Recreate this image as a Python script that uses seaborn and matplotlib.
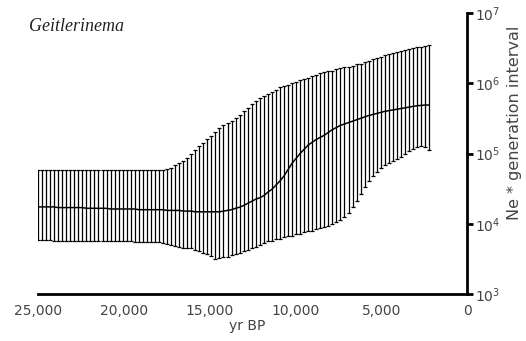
import numpy as np
import pandas as pd
import matplotlib
matplotlib.use("Agg")
import matplotlib.pyplot as plt
import seaborn as sns

# time grid (yr BP), one entry per interval bar
years = [25000, 24765, 24530, 24295, 24060, 23825, 23590, 23355, 23120, 22885,
         22650, 22415, 22180, 21945, 21710, 21475, 21240, 21005, 20770, 20535,
         20300, 20065, 19830, 19595, 19360, 19125, 18890, 18655, 18420, 18185,
         17950, 17715, 17480, 17245, 17010, 16775, 16540, 16305, 16070, 15835,
         15600, 15365, 15130, 14895, 14660, 14425, 14190, 13955, 13720, 13485,
         13250, 13015, 12780, 12545, 12310, 12075, 11840, 11605, 11370, 11135,
         10900, 10665, 10430, 10195, 9960, 9725, 9490, 9255, 9020, 8785,
         8550, 8315, 8080, 7845, 7610, 7375, 7140, 6905, 6670, 6435,
         6200, 5965, 5730, 5495, 5260, 5025, 4790, 4555, 4320, 4085,
         3850, 3615, 3380, 3145, 2910, 2675, 2440, 2205]

# log10(Ne * generation interval)
log_median = [4.24, 4.24, 4.24, 4.24, 4.24, 4.23, 4.23, 4.23, 4.23, 4.23,
              4.23, 4.23, 4.22, 4.22, 4.22, 4.22, 4.22, 4.22, 4.21, 4.21,
              4.21, 4.21, 4.21, 4.21, 4.21, 4.20, 4.20, 4.20, 4.20, 4.20,
              4.20, 4.20, 4.19, 4.19, 4.19, 4.19, 4.18, 4.18, 4.18, 4.17,
              4.17, 4.17, 4.17, 4.17, 4.17, 4.17, 4.18, 4.19, 4.20, 4.22,
              4.235, 4.26, 4.29, 4.32, 4.35, 4.37, 4.40, 4.45, 4.49, 4.55,
              4.61, 4.68, 4.77, 4.86, 4.93, 5.00, 5.06, 5.12, 5.16, 5.20,
              5.23, 5.26, 5.30, 5.34, 5.37, 5.40, 5.42, 5.44, 5.46, 5.48,
              5.50, 5.52, 5.54, 5.555, 5.57, 5.585, 5.60, 5.61, 5.62, 5.63,
              5.64, 5.65, 5.66, 5.67, 5.68, 5.685, 5.69, 5.69]

log_upper = [4.77, 4.77, 4.77, 4.77, 4.77, 4.77, 4.77, 4.77, 4.77, 4.77,
             4.77, 4.77, 4.77, 4.76, 4.76, 4.76, 4.76, 4.76, 4.76, 4.76,
             4.76, 4.76, 4.76, 4.76, 4.76, 4.76, 4.76, 4.76, 4.76, 4.76,
             4.76, 4.77, 4.78, 4.80, 4.83, 4.86, 4.90, 4.94, 4.99, 5.05,
             5.10, 5.15, 5.20, 5.25, 5.31, 5.37, 5.40, 5.43, 5.46, 5.50,
             5.55, 5.60, 5.65, 5.70, 5.75, 5.79, 5.82, 5.85, 5.88, 5.91,
             5.94, 5.96, 5.98, 6.00, 6.02, 6.04, 6.06, 6.08, 6.10, 6.12,
             6.14, 6.155, 6.17, 6.18, 6.20, 6.215, 6.225, 6.235, 6.25, 6.27,
             6.28, 6.30, 6.32, 6.34, 6.36, 6.38, 6.40, 6.42, 6.43, 6.45,
             6.46, 6.48, 6.49, 6.50, 6.51, 6.52, 6.535, 6.545]

log_lower = [3.77, 3.77, 3.77, 3.77, 3.76, 3.76, 3.76, 3.76, 3.76, 3.76,
             3.76, 3.76, 3.75, 3.75, 3.75, 3.75, 3.75, 3.75, 3.75, 3.75,
             3.75, 3.75, 3.75, 3.75, 3.74, 3.74, 3.74, 3.74, 3.74, 3.74,
             3.74, 3.73, 3.71, 3.70, 3.69, 3.67, 3.66, 3.66, 3.65, 3.63,
             3.61, 3.59, 3.57, 3.54, 3.50, 3.51, 3.52, 3.53, 3.55, 3.57,
             3.59, 3.61, 3.63, 3.65, 3.67, 3.70, 3.73, 3.75, 3.76, 3.78,
             3.79, 3.81, 3.82, 3.83, 3.85, 3.86, 3.88, 3.89, 3.90, 3.92,
             3.94, 3.95, 3.97, 3.99, 4.02, 4.06, 4.10, 4.16, 4.24, 4.33,
             4.43, 4.52, 4.61, 4.68, 4.74, 4.79, 4.83, 4.86, 4.89, 4.92,
             4.95, 4.99, 5.03, 5.06, 5.09, 5.10, 5.09, 5.05]

x_ticks = [25000, 20000, 15000, 10000, 5000, 0]
x_ticklabels = ["25,000", "20,000", "15,000", "10,000", "5,000", "0"]
y_ticks = [1e3, 1e4, 1e5, 1e6, 1e7]
y_ticklabels = [r"$10^{3}$", r"$10^{4}$", r"$10^{5}$", r"$10^{6}$", r"$10^{7}$"]

df = pd.DataFrame({
    "year": years,
    "median": np.power(10.0, log_median),
    "upper": np.power(10.0, log_upper),
    "lower": np.power(10.0, log_lower),
})

sns.set_style("white")
plt.rcParams["font.family"] = ["DejaVu Sans"]

fig = plt.figure(figsize=(5.26, 3.41), dpi=100)
ax = fig.add_axes([38 / 526, 1 - 294 / 341, 429 / 526, 281 / 341])

yerr = np.vstack([df["median"] - df["lower"], df["upper"] - df["median"]])
ax.errorbar(df["year"], df["median"], yerr=yerr, fmt="none", ecolor="black",
            elinewidth=0.9, capsize=1.6, capthick=0.9)
sns.lineplot(data=df, x="year", y="median", color="black", linewidth=1.1, ax=ax)

ax.set_yscale("log")
ax.set_xlim(25000, 0)
ax.set_ylim(1e3, 1e7)
ax.set_xticks(x_ticks)
ax.set_xticklabels(x_ticklabels)
ax.set_yticks(y_ticks)
ax.set_yticklabels(y_ticklabels)
ax.minorticks_off()

ax.yaxis.tick_right()
for side in ["left", "top"]:
    ax.spines[side].set_visible(False)
for side in ["right", "bottom"]:
    ax.spines[side].set_linewidth(2)
    ax.spines[side].set_color("black")
ax.tick_params(axis="both", direction="out", length=4, width=2, color="black",
               labelsize=10, labelcolor="#444444")
ax.tick_params(axis="x", pad=3)
ax.tick_params(axis="y", pad=2)

ax.set_xlabel("")
ax.set_ylabel("")
ax.text(0.487, -0.115, "yr BP", transform=ax.transAxes, ha="center", va="center",
        fontsize=10, color="#444444")
ax.text(1.11, 0.61, "Ne * generation interval", transform=ax.transAxes,
        rotation=90, ha="center", va="center", fontsize=11.5, color="#444444")

fig.text(29 / 526, 1 - 31 / 341, "Geitlerinema", fontsize=13, style="italic",
         family="Liberation Serif", color="#222222", va="baseline")

fig.savefig("out.png", dpi=100)
